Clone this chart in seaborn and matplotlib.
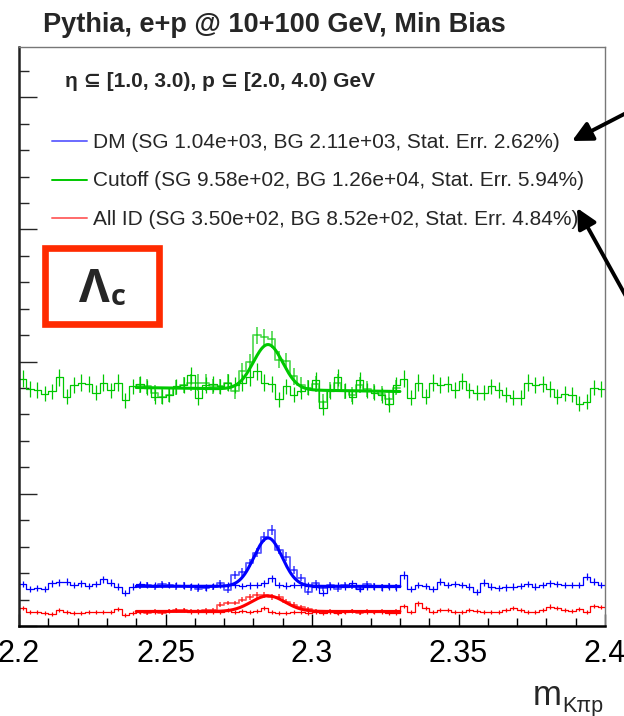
import numpy as np
import pandas as pd
import matplotlib.pyplot as plt
import seaborn as sns
from matplotlib.lines import Line2D
from matplotlib.patches import Rectangle
from matplotlib.ticker import MultipleLocator, FixedLocator, FixedFormatter

# --- data -----------------------------------------------------------------
edges = np.linspace(2.2, 2.4, 81)          # 80 bins of 0.0025
fit_lo, fit_hi = 16, 52                    # fit range 2.24 .. 2.33 (bin indices)

green_full = [936, 898, 894, 879, 887, 940, 868, 913, 921, 917,
              883, 921, 891, 921, 853, 906, 917, 902, 868, 868,
              875, 906, 910, 948, 864, 913, 917, 906, 921, 913,
              921, 940, 963, 921, 917, 857, 906, 875, 887, 902,
              929, 826, 887, 940, 891, 868, 929, 891, 883, 872,
              838, 913, 936, 864, 921, 868, 921, 910, 917, 894,
              925, 891, 883, 883, 906, 894, 875, 864, 864, 921,
              913, 917, 898, 868, 879, 875, 841, 849, 902, 898]
green_fit = [913, 906, 880, 868, 875, 902, 913, 921, 921, 921,
             906, 906, 921, 887, 963, 997, 1099, 1092, 1084, 1008,
             1001, 944, 913, 902, 917, 849, 894, 921, 887, 875,
             913, 898, 887, 879, 860, 902]

blue_full = [159, 139, 143, 139, 162, 165, 168, 155, 162, 151,
             159, 177, 164, 149, 124, 149, 159, 155, 155, 155,
             155, 155, 153, 151, 149, 146, 151, 155, 155, 155,
             151, 154, 155, 162, 181, 155, 153, 155, 155, 153,
             149, 126, 149, 155, 149, 162, 139, 149, 149, 146,
             149, 146, 193, 139, 155, 151, 139, 168, 155, 159,
             155, 149, 130, 164, 149, 143, 146, 149, 151, 159,
             149, 155, 162, 159, 155, 155, 155, 187, 168, 155]
blue_fit = [152, 155, 148, 158, 155, 150, 153, 146, 140, 144,
            148, 163, 136, 193, 205, 239, 277, 337, 364, 288,
            262, 212, 182, 129, 163, 144, 155, 139, 155, 151,
            141, 158, 149, 146, 152, 148]

red_full = [69, 54, 52, 48, 45, 61, 54, 50, 48, 54,
            54, 54, 54, 63, 42, 50, 52, 52, 54, 54,
            58, 61, 61, 54, 54, 52, 54, 54, 61, 54,
            57, 54, 58, 67, 54, 48, 50, 54, 54, 50,
            54, 48, 54, 50, 52, 58, 54, 54, 54, 54,
            50, 50, 76, 54, 86, 67, 54, 61, 61, 54,
            52, 61, 57, 54, 54, 52, 61, 67, 61, 54,
            52, 61, 73, 67, 61, 58, 63, 54, 76, 71]
red_fit = [52, 50, 55, 48, 58, 60, 62, 58, 56, 61,
           61, 80, 87, 87, 99, 110, 117, 117, 110, 110,
           91, 80, 72, 64, 57, 52, 55, 50, 53, 57,
           50, 55, 52, 56, 54, 58]

# gaus + pol1 fit parameters: mean, sigma, amplitude, bg at 2.24, bg at 2.33
green_par = (2.285, 0.0050, 170, 902, 887)
blue_par = (2.285, 0.0048, 183, 150, 150)
red_par = (2.285, 0.0058, 59, 55, 55)

legend_labels = ["DM (SG 1.04e+03, BG 2.11e+03, Stat. Err. 2.62%)",
                 "Cutoff (SG 9.58e+02, BG 1.26e+04, Stat. Err. 5.94%)",
                 "All ID (SG 3.50e+02, BG 8.52e+02, Stat. Err. 4.84%)"]
xtick_vals = [2.2, 2.25, 2.3, 2.35, 2.4]
xtick_labels = ["2.2", "2.25", "2.3", "2.35", "2.4"]

# --- style --------------------------------------------------------------
sns.set_theme(style="ticks")
plt.rcParams['font.family'] = ['Liberation Sans', 'DejaVu Sans']

W, H = 624, 716
fig = plt.figure(figsize=(W / 100, H / 100), dpi=100)
ax = fig.add_axes([19 / W, 90 / H, 586 / W, 579 / H])

centers = 0.5 * (edges[:-1] + edges[1:])
GREEN, BLUE, RED = '#00c800', '#0000ff', '#ff0000'


def draw_hist(vals, lo, hi, color, lw, alpha):
    df = pd.DataFrame({'m': centers[lo:hi], 'n': np.asarray(vals, dtype=float)})
    sns.histplot(data=df, x='m', weights='n', binwidth=0.0025,
                 binrange=(edges[lo], edges[hi]), element='step',
                 fill=False, color=color, lw=lw, alpha=alpha, ax=ax)
    ax.errorbar(df['m'], df['n'], yerr=np.sqrt(df['n']), fmt='none',
                ecolor=color, elinewidth=lw, alpha=alpha, capsize=0)


def draw_fit(par, color):
    mu, sig, amp, b0, b1 = par
    xs = np.linspace(edges[fit_lo], edges[fit_hi], 300)
    bg = b0 + (b1 - b0) * (xs - xs[0]) / (xs[-1] - xs[0])
    ys = bg + amp * np.exp(-0.5 * ((xs - mu) / sig) ** 2)
    sns.lineplot(x=xs, y=ys, color=color, lw=2.2, sort=False, ax=ax)


for full, fit, par, col in [(green_full, green_fit, green_par, GREEN),
                            (blue_full, blue_fit, blue_par, BLUE),
                            (red_full, red_fit, red_par, RED)]:
    draw_hist(full, 0, 80, col, 0.9, 1.0)
    draw_hist(fit, fit_lo, fit_hi, col, 1.3, 0.65)
    draw_fit(par, col)

ax.set_xlim(2.2, 2.4)
ax.set_ylim(0, 2190)
ax.set_xlabel('')
ax.set_ylabel('')

ax.xaxis.set_major_locator(FixedLocator(xtick_vals))
ax.xaxis.set_major_formatter(FixedFormatter(xtick_labels))
ax.xaxis.set_minor_locator(MultipleLocator(0.01))
ax.yaxis.set_major_locator(MultipleLocator(500))
ax.yaxis.set_minor_locator(MultipleLocator(100))
ax.tick_params(axis='x', which='both', direction='in', top=False,
               labelsize=22, pad=9, colors='black')
ax.tick_params(axis='x', which='major', length=9, width=1.0)
ax.tick_params(axis='x', which='minor', length=6, width=1.0)
ax.tick_params(axis='y', which='both', direction='in', right=False,
               labelleft=False)
ax.tick_params(axis='y', which='major', length=13, width=1.0)
ax.tick_params(axis='y', which='minor', length=7, width=1.0)

ax.spines['left'].set_linewidth(1.8)
ax.spines['left'].set_color('#222222')
ax.spines['bottom'].set_linewidth(1.8)
ax.spines['bottom'].set_color('black')
for s in ['top', 'right']:
    ax.spines[s].set_visible(True)
    ax.spines[s].set_linewidth(1.0)
    ax.spines[s].set_color('#777777')


def fy(y):
    return 1 - y / H


# title and cut text
fig.text(43 / W, fy(32), "Pythia, e+p @ 10+100 GeV, Min Bias",
         fontsize=19.5, fontweight='bold', va='baseline')
fig.text(65 / W, fy(87), "η ⊆ [1.0, 3.0), p ⊆ [2.0, 4.0) GeV",
         fontsize=15, fontweight='bold', va='baseline')

# legend
leg_cols = ['#6a6aff', GREEN, '#ff6a6a']
for i, (lab, lc) in enumerate(zip(legend_labels, leg_cols)):
    yl = 141 + 38.5 * i
    fig.add_artist(Line2D([52 / W, 87 / W], [fy(yl), fy(yl)],
                          color=lc, lw=1.4, transform=fig.transFigure))
    fig.text(93 / W, fy(yl + 7), lab, fontsize=15, va='baseline')

# Lambda_c box
fig.add_artist(Rectangle((45 / W, fy(324)), 114 / W, 76 / H, fill=False,
                         ec='#ff2a00', lw=4.8, transform=fig.transFigure))
fig.text(79 / W, fy(302), "Λ", fontsize=34, fontweight='bold',
         family=['Open Sans', 'DejaVu Sans'], va='baseline')
fig.text(111 / W, fy(305), "c", fontsize=21, fontweight='bold',
         family=['Open Sans', 'DejaVu Sans'], va='baseline')

# arrows pointing at legend entries
for start, tip in [((632, 110), (572, 141)), ((628, 300), (577, 208))]:
    ax.annotate('', xy=(tip[0], H - tip[1]), xycoords='figure pixels',
                xytext=(start[0], H - start[1]), textcoords='figure pixels',
                arrowprops=dict(arrowstyle='-|>', lw=2.8, color='black',
                                mutation_scale=30, shrinkA=0, shrinkB=0),
                annotation_clip=False)

# x axis title
fig.text(533 / W, fy(705), "m", fontsize=25, va='baseline')
fig.text(562 / W, fy(712), "Kπp", fontsize=15.5, va='baseline')

fig.savefig('out.png', dpi=100)
